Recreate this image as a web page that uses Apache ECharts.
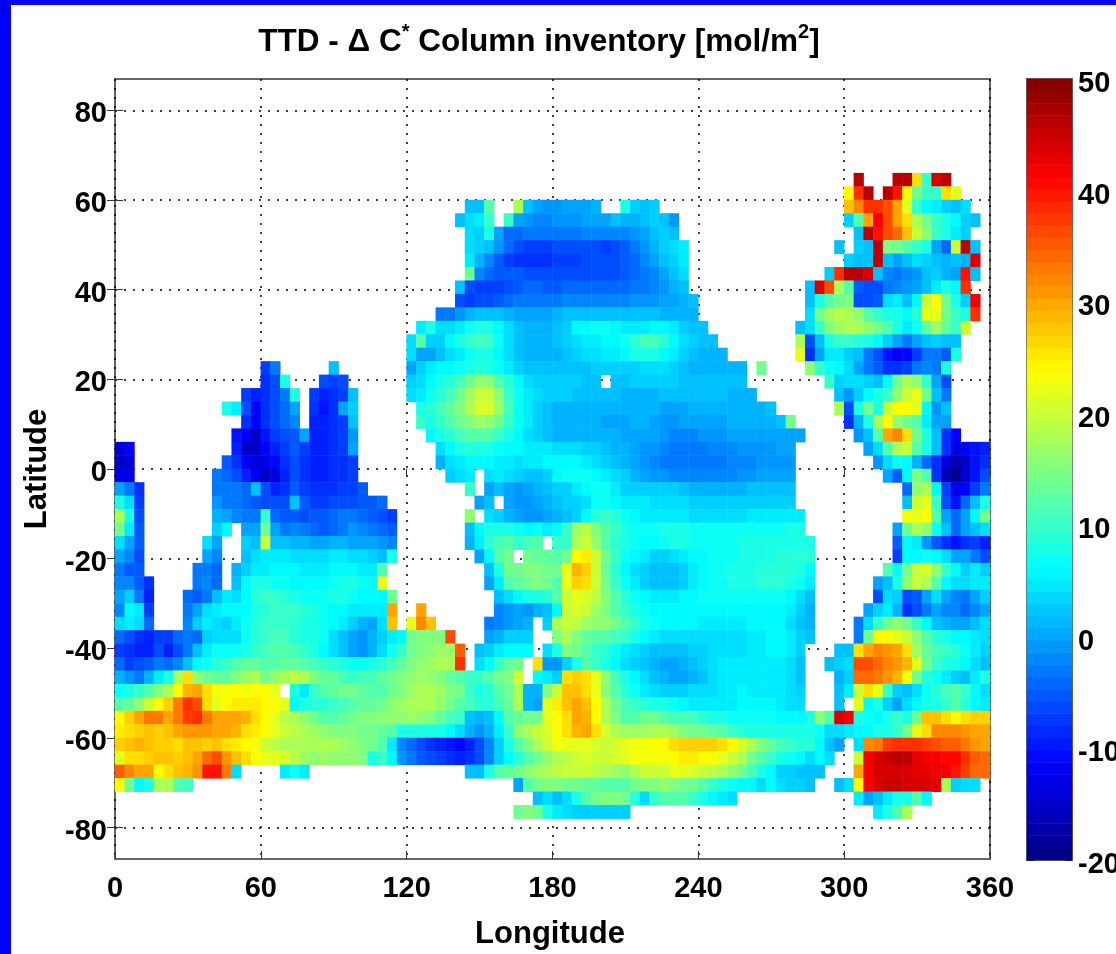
<!DOCTYPE html>
<html><head><meta charset="utf-8">
<style>
html,body{margin:0;padding:0;background:#fff;overflow:hidden}
#frame{position:absolute;left:0;top:0;width:1105px;height:949px;border-left:11px solid #0000ff;border-top:5px solid #0000ff}
#chart{position:absolute;left:0;top:0;width:1116px;height:954px}
</style>
<script src="https://cdn.jsdelivr.net/npm/echarts@6/dist/echarts.min.js"></script>
</head><body><div id="frame"></div><div id="chart"></div>
<script>
const _ = null;
const lonTicks = [0, 60, 120, 180, 240, 300, 360];
const latTicks = [80, 60, 40, 20, 0, -20, -40, -60, -80];
const barTicks = [50, 40, 30, 20, 10, 0, -10, -20];
const colorbarLevels = [-19.45,-18.36,-17.27,-16.17,-15.08,-13.98,-12.89,-11.80,-10.70,-9.61,-8.52,-7.42,-6.33,-5.23,-4.14,-3.05,-1.95,-0.86,0.23,1.33,2.42,3.52,4.61,5.70,6.80,7.89,8.98,10.08,11.17,12.27,13.36,14.45,15.55,16.64,17.73,18.83,19.92,21.02,22.11,23.20,24.30,25.39,26.48,27.58,28.67,29.77,30.86,31.95,33.05,34.14,35.23,36.33,37.42,38.52,39.61,40.70,41.80,42.89,43.98,45.08,46.17,47.27,48.36,49.45];
// cell centres: every 4 degrees of longitude (2..358), every 3 degrees of latitude (-85.5..85.5)
const lonCategories = [2,6,10,14,18,22,26,30,34,38,42,46,50,54,58,62,66,70,74,78,82,86,90,94,98,102,106,110,114,118,122,126,130,134,138,142,146,150,154,158,162,166,170,174,178,182,186,190,194,198,202,206,210,214,218,222,226,230,234,238,242,246,250,254,258,262,266,270,274,278,282,286,290,294,298,302,306,310,314,318,322,326,330,334,338,342,346,350,354,358];
const latCategories = [-85.5,-82.5,-79.5,-76.5,-73.5,-70.5,-67.5,-64.5,-61.5,-58.5,-55.5,-52.5,-49.5,-46.5,-43.5,-40.5,-37.5,-34.5,-31.5,-28.5,-25.5,-22.5,-19.5,-16.5,-13.5,-10.5,-7.5,-4.5,-1.5,1.5,4.5,7.5,10.5,13.5,16.5,19.5,22.5,25.5,28.5,31.5,34.5,37.5,40.5,43.5,46.5,49.5,52.5,55.5,58.5,61.5,64.5,67.5,70.5,73.5,76.5,79.5,82.5,85.5];
// Each row is a list of runs: [first longitude column, values...]
const rowLatitudes = [64.5,61.5,58.5,55.5,52.5,49.5,46.5,43.5,40.5,37.5,34.5,31.5,28.5,25.5,22.5,19.5,16.5,13.5,10.5,7.5,4.5,1.5,-1.5,-4.5,-7.5,-10.5,-13.5,-16.5,-19.5,-22.5,-25.5,-28.5,-31.5,-34.5,-37.5,-40.5,-43.5,-46.5,-49.5,-52.5,-55.5,-58.5,-61.5,-64.5,-67.5,-70.5,-73.5,-76.5];
const rowRuns = [
[[76,46],[80,46,46,26,10,44,46]],
[[75,24,38,46],[79,46,40,24,14,10,10,26,22]],
[[36,2,2,12],[41,18,2,0,-1,-1,0,0,0,1],[52,8,3,2,3],[75,28,32,38,38,36,30,22,10,6,5,3,2,4]],
[[35,2,4,5,10],[40,10,0,-1,-2,-2,-1,-1,-1,0,0,0,2,1,1,2,3,2,-1],[75,3,12,30,42,36,30,26,18,14,10,8,6,3,2]],
[[36,4,3,8,0,-4,-4,-3,-3,-3,-3,-3,-3,-2,-2,-2,-2,-2,-1,0,2,3,2],[76,2,46,40,36,34,28,20,16,10,8,5,3]],
[[36,4,3,2,-1,-4,-6,-7,-7,-7,-6,-6,-6,-6,-6,-7,-6,-5,-3,-1,1,3,4,5],[74,2,_,3,2,46,15,14,12,10,8,0,-4,20,46,2]],
[[36,5,1,-2,-5,-7,-8,-8,-8,-8,-7,-7,-7,-6,-6,-6,-6,-5,-4,-2,0,2,3,5],[75,3,2,2,46,2,0,2,4,3,2,1,2,1,44]],
[[36,14,-2,-4,-5,-5,-5,-6,-6,-6,-6,-6,-6,-6,-6,-6,-6,-5,-4,-3,-2,0,2,4],[73,3,38,46,46,44,2,-2,-3,-2,-1,2,3,1,0,40,2]],
[[35,2,-6,-7,-7,-7,-6,-5,-4,-4,-5,-5,-4,-4,-4,-4,-4,-4,-4,-3,-3,-2,-1,1,2],[71,2,44,36,18,12,-5,-6,-6,-3,-2,-1,0,2,5,8,6,38]],
[[35,-6,-7,-6,-6,-5,-4,-3,-3,-3,-3,-3,-2,-2,-2,-2,-2,-2,-2,-1,-1,-1,0,0,1,2],[71,2,8,12,14,15,-6,-6,-5,4,5,2,6,20,24,14,8,3,42]],
[[33,-3,-3,-1,1,2,2,2,1,0,0,0,0,1,2,2,2,2,2,2,2,2,2,2,1,1,1,1],[71,4,14,17,19,18,16,12,10,8,8,6,9,22,22,14,10,8,38]],
[[31,5,8,4,4,5,7,8,8,6,4,2,1,1,1,2,3,6,6,7,7,6,5,5,5,6,6,5,3,2,2],[70,2,4,10,15,17,18,18,16,14,12,8,5,7,13,17,13,10,20]],
[[30,4,12,3,3,6,8,10,11,10,7,4,2,1,1,1,2,3,4,5,5,6,6,7,9,11,11,9,6,4,3,2,2],[70,18,-6,2,8,10,10,9,8,6,3,0,-3,0,2,3,2,2]],
[[30,4,0,0,2,4,5,7,8,8,6,4,2,1,1,1,1,2,3,4,4,5,5,6,8,8,8,6,5,3,2,1,1,1],[70,22,-8,0,5,5,3,2,-3,-6,-10,-12,-11,-7,-3,-3,-5,8]],
[[15,-7,-3],[22,2],[30,0,3,5,6,6,7,8,9,8,7,5,3,2,2,2,2,2,2,2,3,3,3,3,3,4,4,4,3,2,1,1,1,1,1,1],[66,14],[71,16,10,7,6,4,0,-3,-5,-8,-8,-7,-3,-2,-3,8]],
[[15,-8,-6,8],[21,-6,-7,-6],[30,3,4,6,8,9,11,14,16,16,12,9,6,4,3,3,3,3,3,2,2,_,2,2,3,3,3,3,3,2,2,2,2,2,2,2],[73,10,3,4,4,3,2,6,14,18,16,10,0,-6]],
[[13,-7,-9,-8,-6,-3,8],[20,-7,-9,-8,-7,2],[30,4,5,7,9,11,14,17,20,20,16,10,7,5,4,3,3,3,2,2,2,2,2,1,1,1,1,2,2,2,2,2,2,2,1,1,1],[74,2,-1,3,6,8,10,16,20,22,14,2,-3]],
[[11,8,5,-6,-11,-8,-6,-4,0],[20,-8,-10,-8,0,3],[31,8,9,11,13,15,18,21,21,17,11,7,5,3,2,1,1,1,1,1,1,1,1,1,1,1,0,0,0,1,1,1,1,1,1,1,1,2],[74,18,-6,8,14,8,20,24,24,22,6,-1,2]],
[[13,-8,-12,-8,-6,-4,-2],[20,-9,-9,-8,-7,2],[31,10,8,10,12,14,15,17,16,14,10,7,5,3,2,1,1,1,1,1,0,0,0,1,1,0,-1,-1,0,0,0,0,0,1,1,1,1,1,2,14],[75,-8,1,8,18,24,16,14,12,5,0,0]],
[[12,-10,-12,-15,-10,-7,-6,-5,0,-9,-9,-8,-7,-1],[32,6,8,9,11,12,12,12,10,8,6,4,3,2,1,1,1,1,1,1,1,0,0,0,0,-1,-2,-2,-2,-1,-1,-1,0,0,0,0,0,0,0,0],[76,-1,2,12,30,32,26,14,8,2,-8,-11]],
[[0,-14,-11],[12,-9,-15,-15,-11,-9,-7,-5,-7,-9,-9,-8,-7,0],[33,4,6,8,9,8,8,7,6,6,5,5,5,4,4,4,3,3,2,1,1,0,-1,-1,-2,-3,-3,-3,-3,-2,-2,-2,-1,-1,-1,-1,0,0],[77,0,4,12,18,20,12,8,2,-8,-13,-11,-10,-9]],
[[0,-15,-14],[11,-5,-8,-12,-14,-13,-11,-8,-6,-8,-9,-9,-8,-8,-7],[33,1,4,5,6,6,6,5,5,4,5,5,6,6,6,6,5,4,3,2,1,0,-1,-2,-3,-3,-3,-3,-3,-3,-3,-2,-2,-2,-1,-1,-1,-1],[78,-1,4,7,6,1,-4,-8,-14,-17,-15,-10,-8]],
[[0,-13,-13],[10,-3,-4,-6,-9,-12,-15,-14,-9,-6,-8,-9,-9,-8,-8,-7],[34,3,4,5,_,4,5,4,3,2,2,3,6,7,7,7,6,5,4,3,1,0,-1,-1,-2,-2,-2,-2,-2,-2,-2,-1,-1,0,0,0,0],[79,0,-5,6,15,12,-8,-16,-19,-15,-10,-6]],
[[0,0,-3,-8],[10,-3,-3,-3,-4,2,-6,-9,-8,-5,-7,-8,-8,-8,-7,-7,-5],[36,10,_,0,2,0,-1,0,1,2,3,3,5,6,7,7,5,3,3,3,3,3,3,2,1,1,1,1,1,1,2,2,2,2,2],[81,-4,16,18,6,-7,-13,-11,-7,-3]],
[[0,8,4,-7],[10,-1,-3,-3,-4,-5,-6,-6,-6,2,-5,-7,-7,-6,-6,-6,-5,-5,-4],[37,0,2,_,0,-1,-1,0,1,2,3,3,4,7,7,6,5,5,5,4,4,4,4,3,3,3,3,3,3,3,3,3,3,3],[81,2,20,22,10,-6,-10,-4,2,8]],
[[0,18,8,-6],[10,1,0,-2,-3,-3,10,-4,-5,-5,-6,-5,-5,-4,-3,-3,-4,-5,-6,-7],[36,16,_,4,3,1,0,-1,-1,0,1,2,3,6,9,10,9,7,6,5,5,5,5,5,4,4,4,4,4,4,5,5,5,5,5,5],[81,23,22,24,12,0,-4,0,6,14]],
[[0,14,5,-5],[10,3,6,_,0,0,14,0,-3,-2,-3,-4,-5,-4,-3,-1,-2,-3,-4,-5],[36,2,6,8,8,8,7,6,7,5,6,10,17,19,15,12,10,8,7,7,7,8,8,8,7,7,7,7,7,7,7,7,7,7,8,8],[80,0,14,18,16,7,2,-4,0,2,4]],
[[0,4,0,-5],[9,4,0,_,_,3,2,20,2,2,1,1,0,0,1,1,0,0,0,-1,-2],[36,1,5,9,11,12,10,11,12,_,10,10,18,20,16,12,9,8,7,6,6,7,8,8,7,7,7,7,7,8,8,8,8,8,8,8,8],[80,-5,6,5,-1,-5,-8,-10,-8,-7,-9]],
[[0,0,-2,-6],[9,0,-2,_,_,2,4,5,5,5,4,4,4,4,5,5,4,4,3,2,8],[37,0,6,12,14,_,14,13,13,12,14,24,25,20,14,10,7,6,5,3,3,4,5,6,6,7,7,7,8,8,8,8,9,9,9,9],[80,-7,6,6,7,6,4,0,0,-3,-6]],
[[0,-3,-5,-5],[8,-3,-3,-4,_,1,3,5,5,6,6,6,5,5,5,6,6,6,5,5,12],[38,2,8,14,14,15,15,14,14,22,29,27,20,13,9,6,4,3,2,2,2,3,5,6,7,7,8,8,8,9,9,9,9,8,6],[79,12,6,14,20,21,16,10,6,3,5,3]],
[[0,-2,-2,-5,-8],[8,-3,-2,-4,_,2,6,8,8,7,7,6,6,6,6,7,8,8,7,6,22],[38,0,5,12,13,14,15,14,12,22,27,26,20,14,10,7,5,3,2,2,2,3,5,6,7,7,8,8,8,9,9,9,8,7,5],[78,0,2,8,16,20,18,12,6,4,4,5,5]],
[[0,0,3,-3,-9],[7,-4,-5,-3,2,5,4,6,9,10,10,9,8,7,7,7,8,8,7,6,6,6,14],[39,2,4,6,8,8,9,12,20,22,21,19,15,12,9,7,6,5,5,5,6,6,7,7,7,7,7,7,7,7,7,6,4,2],[78,-6,4,3,-6,-5,0,4,0,-2,-3,0,3]],
[[0,-2,6,5,-7],[7,-3,0,4,5,6,6,6,8,9,10,10,10,9,8,7,6,6,5,5,5,5,30],[31,30],[39,-2,-1,0,-1,1,2,6,20,21,20,17,15,12,10,8,7,6,6,6,6,6,6,6,6,6,6,6,6,6,6,5,3,1],[77,0,3,5,1,-8,-6,-3,0,-2,-2,-4,-2,0]],
[[0,4,5,4,-4],[7,-2,3,5,4,3,5,7,9,10,10,10,9,8,8,7,6,5,3,1,0,4,28],[30,22,32,28],[38,-3,-2,-1,0,1,_,3,18,20,19,17,16,16,14,12,10,8,7,6,6,6,6,5,5,5,5,5,6,6,6,6,4,2,1],[76,-3,4,10,14,16,14,10,6,2,1,0,0,2,4]],
[[0,-4,-6,-8,-9,-7,-7,-4,-3,-4,3,4,4,4,7,9,10,11,11,9,8,8,7,4,2,0,-1,1,3,5,6,14,15,15,15,36],[38,0,1,3,3,3,_,_,15,18,15,13,12,12,11,10,8,6,5,4,4,4,4,4,4,4,4,4,5,5,6,6,5,3,2],[76,-3,14,24,24,22,20,16,12,9,8,6,6,5,4]],
[[0,-7,-8,-9,-9,-6,-9,-6,-3,2,5,7,7,7,8,10,11,12,12,11,10,8,6,4,2,0,-1,1,4,7,10,14,15,16,17,17,35],[37,2,3,5,6,6,6,_,4,8,15,14,12,10,9,7,5,4,3,2,2,2,2,3,3,4,4,4,4,5,5,6,6,5,3],[74,2,2,26,30,32,31,30,26,17,13,11,10,9,7,5,3]],
[[0,-4,-7,-6,-5,-3,-4,-2,2,6,7,9,10,12,13,13,12,12,13,13,12,11,10,9,8,7,7,8,9,11,13,15,16,17,18,18,38],[37,4,6,10,13,14,_,26,-1,-1,3,8,12,10,8,6,4,3,2,1,0,0,1,2,3,4,5,5,5,5,5,5,5,4,2],[73,2,3,4,36,36,34,32,31,29,22,14,10,8,8,6,4,2]],
[[0,1,-1,-3,1,5,8,18,26,16,14,13,13,15,17,18,14,16,18,19,18,15,13,13,11,10,11,11,13,14,15,16,17,16,15,13,12,10,10,12,14,15,20,_,6,5,3,26,27,26,22,16,11,8,6,4,2,1,0,0,1,2,4,5,5,5,5,5,5,5,4,2],[74,1,3,34,34,33,31,29,24,14,9,7,5,3,2,5,8]],
[[0,7,8,10,12,15,18,24,29,30,26,23,23,24,23,24,24,22,_,8,5,10,12,13,14,14,13,12,12,14,15,17,18,18,17,15,14,10,8,9,12,14,18,1,1,15,20,28,28,26,22,15,12,9,7,5,4,3,3,3,4,4,4,5,5,6,5,5,5,5,4,3],[74,2,5,20,26,22,10,3,2,4,7,9,11,12,10,6,4]],
[[0,12,13,16,20,24,27,33,38,36,26,22,24,25,25,25,24,24,22,6,8,9,9,10,11,12,13,13,14,16,17,18,18,18,16,14,12,11,9,9,11,13,18,1,0,22,25,28,30,28,24,18,14,11,10,9,8,8,7,6,5,5,5,5,5,6,6,6,6,5,4,4],[74,2,_,22,6,8,3,0,4,6,8,8,10,12,9,6,5]],
[[0,24,27,30,33,33,30,33,37,38,33,30,30,30,29,26,24,22,19,18,16,14,12,12,13,14,15,15,16,16,16,17,16,15,13,11,10,2,1,2,6,12,13,14,14,22,24,26,30,29,24,18,15,12,12,14,14,12,11,11,11,9,8,8,7,7,7,7,7,6,6,6,8,16,12,44,42,8,7,6,8,10,8,14,28,28,26,24,26,27,27]],
[[0,25,26,27,28,27,28,30,31,31,31,30,30,29,26,25,24,22,20,19,18,17,16,15,15,15,14,14,13,12,8,8,8,8,8,6,4,1,-1,1,5,10,16,18,20,21,24,26,29,30,26,21,18,17,17,17,18,18,17,15,14,14,13,12,10,9,8,8,8,8,8,8,8,7,4,4,5,6,6,8,8,10,14,22,26,32,32,32,31,30,30]],
[[0,27,28,29,28,27,27,26,28,28,27,28,26,25,24,23,20,19,18,18,18,18,18,18,17,16,15,14,12,5,-2,-4,-6,-8,-9,-10,-11,-9,-6,-2,3,8,12,15,18,20,23,22,22,22,21,20,21,22,23,23,24,24,26,27,27,27,27,26,24,21,18,15,13,11,10,9,9,6,2,0,_,4,32,33,37,38,38,38,37,36,35,35,33,31,30]],
[[0,22,26,26,27,28,28,27,28,30,34,36,31,28,26,24,22,22,21,19,17,16,17,16,16,16,15,8,10,6,-1,-3,-5,-6,-7,-8,-9,-8,-6,-2,3,6,9,12,14,16,18,19,20,21,20,20,21,22,23,23,23,23,24,25,25,24,24,22,20,18,14,12,10,8,7,6,4,6,4,_,_,20,42,44,45,46,46,43,42,42,41,41,38,35,34]],
[[0,35,32,30,30,24,26,28,29,31,40,40,33,4],[17,5,7,5],[36,2,2,8,12,13,14,16,17,18,19,20,20,20,19,18,17,16,18,20,20,20,22,22,21,20,19,18,16,14,11,8,6,3,3,2,2,2],[76,30,42,44,44,44,44,43,43,42,42,40,37,34,34]],
[[0,24,14,6,8,18,18,12,11],[41,0,12,14,15,15,14,14,13,13,12,12,12,14,15,15,16,15,14,14,12,10,8,7,6,6,4,6,4,3,3,2],[74,2,4,24,42,44,45,45,44,44,44,43,18,3,4,4]],
[[43,2,4,2,4,8,12,14,15,15,14,9,4,10,12,12,12,10,8,6,5,4],[76,5,0,2,5,8,8,12,6]],
[[41,14,15,14,8,5,4,3,3,3,3,3,3],[78,5,8,12,18]]
];

const cells = [];
rowRuns.forEach((runs, r) => {
  const yIdx = latCategories.indexOf(rowLatitudes[r]);
  runs.forEach(run => {
    for (let k = 1; k < run.length; k++) {
      if (run[k] !== null) cells.push([run[0] + k - 1, yIdx, run[k]]);
    }
  });
});
const barCells = colorbarLevels.map((v, i) => [0, i, v]);

const FONT = '"Liberation Sans", Arial, sans-serif';
const TICKC = '#333';
const DOTS = {color:'#000', type:[2,7], width:1.5};
function tickOnly(extra){
  return Object.assign({type:'value', axisLabel:{show:false}, splitLine:{show:false},
    axisLine:{show:false}, axisTick:{show:true, inside:true, length:8, lineStyle:{color:TICKC, width:1}}}, extra);
}
const chart = echarts.init(document.getElementById('chart'), null, {renderer:'canvas'});
chart.setOption({
  animation:false,
  title:{left:534, top:17, textAlign:'center',
    text:'{a|TTD - \u0394 C}{s|*}{a| Column inventory [mol/m}{s|2}{a|]}',
    textStyle:{rich:{
      a:{fontFamily:FONT, fontWeight:'bold', fontSize:31.5, color:'#000', verticalAlign:'bottom', lineHeight:36},
      s:{fontFamily:FONT, fontWeight:'bold', fontSize:20, color:'#000', verticalAlign:'top', lineHeight:20}
    }}},
  grid:[
    {left:115, top:79, width:875, height:780, show:true, backgroundColor:'#fff', borderColor:'#666', borderWidth:2, outerBoundsMode:'none'},
    {left:1027, top:79, width:45, height:781, show:true, backgroundColor:'#fff', borderColor:'#666', borderWidth:2, outerBoundsMode:'none'}
  ],
  xAxis:[
    {type:'value', gridIndex:0, min:0, max:360, interval:60, position:'bottom',
     name:'Longitude', nameLocation:'middle', nameGap:60,
     nameTextStyle:{fontFamily:FONT, fontWeight:'bold', fontSize:31, color:'#000', padding:[0,5,0,0]},
     axisLine:{show:false, onZero:false},
     axisTick:{show:true, inside:true, length:8, lineStyle:{color:TICKC}},
     axisLabel:{fontFamily:FONT, fontWeight:'bold', fontSize:29, color:'#000', margin:15,
       customValues:lonTicks, hideOverlap:false, showMinLabel:true, showMaxLabel:true},
     splitLine:{show:true, lineStyle:DOTS}},
    {type:'category', gridIndex:0, data:lonCategories, show:false},
    tickOnly({gridIndex:0, min:0, max:360, interval:60, position:'top'}),
    {type:'category', gridIndex:1, data:[0], show:false}
  ],
  yAxis:[
    {type:'value', gridIndex:0, min:-87, max:87, position:'left',
     name:'Latitude', nameLocation:'middle', nameGap:62, nameRotate:90,
     nameTextStyle:{fontFamily:FONT, fontWeight:'bold', fontSize:31, color:'#000'},
     axisLine:{show:false, onZero:false},
     axisTick:{show:true, inside:true, length:8, customValues:latTicks, lineStyle:{color:TICKC}},
     axisLabel:{fontFamily:FONT, fontWeight:'bold', fontSize:29, color:'#000', margin:8, customValues:latTicks, verticalAlign:'top', lineHeight:8},
     splitLine:{show:true, lineStyle:DOTS}},
    {type:'category', gridIndex:0, data:latCategories, show:false},
    tickOnly({gridIndex:0, min:-87, max:87, position:'right',
      axisTick:{show:true, inside:true, length:8, customValues:latTicks, lineStyle:{color:TICKC}}}),
    {type:'category', gridIndex:1, data:colorbarLevels, show:false},
    {type:'value', gridIndex:1, min:-20, max:50, position:'right',
     axisLine:{show:false, onZero:false},
     axisTick:{show:true, inside:true, length:7, customValues:barTicks, lineStyle:{color:'#222'}},
     axisLabel:{fontFamily:FONT, fontWeight:'bold', fontSize:29, color:'#000', margin:6, customValues:barTicks, verticalAlign:'top', lineHeight:10},
     splitLine:{show:false}},
    tickOnly({gridIndex:1, min:-20, max:50, position:'left',
      axisTick:{show:true, inside:true, length:7, customValues:barTicks, lineStyle:{color:'#222'}}})
  ],
  visualMap:{show:false, type:'continuous', min:-20, max:50, seriesIndex:[0,1],
    inRange:{color:['#000080','#0000ff','#0080ff','#00ffff','#80ff80','#ffff00','#ff8000','#ff0000','#800000']}},
  series:[
    {type:'heatmap', name:'Column inventory', xAxisIndex:1, yAxisIndex:1, data:cells, itemStyle:{borderWidth:0}, progressive:0},
    {type:'heatmap', name:'Colour scale', xAxisIndex:3, yAxisIndex:3, data:barCells, itemStyle:{borderWidth:0}, progressive:0}
  ]
});
</script></body></html>
